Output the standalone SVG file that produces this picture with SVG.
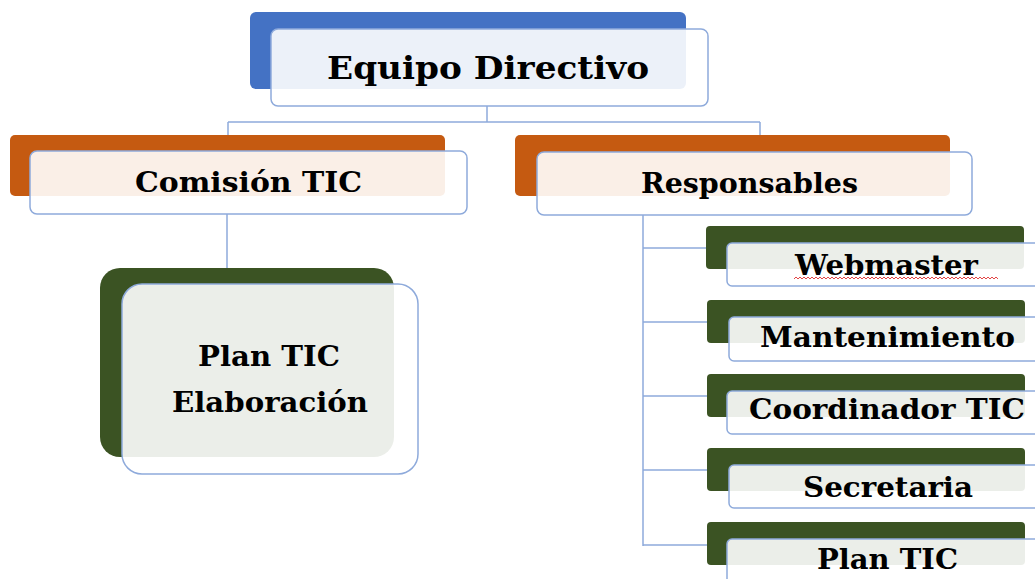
<svg xmlns="http://www.w3.org/2000/svg" width="1035" height="579" viewBox="0 0 1035 579">
<style>
.bk{stroke:none}
.blue{fill:#4472C4}
.orange{fill:#C55A11}
.green{fill:#3B5323}
.fr{fill:#FFFFFF;fill-opacity:0.9;stroke:#8EAADB;stroke-width:1.5}
.t{font-family:"DejaVu Serif","Liberation Serif",serif;font-weight:bold;fill:#000;text-anchor:start}
.conn{fill:none;stroke:#8EAADB;stroke-width:1.5}
</style>
<rect width="1035" height="579" fill="#FFFFFF"/>
<g id="connectors">
<path class="conn" d="M487,106 V122 M228,122 H760 M228,122 V151 M760,122 V152 M227,214 V284 M643,215 V546 M643,248 H706 M643,322 H707 M643,396 H707 M643,470 H707 M643,545 H707"/>
</g>
<g id="equipo-directivo">
<rect class="bk blue" x="250" y="12" width="436" height="77" rx="6"/>
<rect class="fr" x="271" y="29" width="437" height="77" rx="7"/>
<text class="t" x="327" y="79" font-size="32" textLength="322" lengthAdjust="spacingAndGlyphs">Equipo Directivo</text>
</g>
<g id="comision-tic">
<rect class="bk orange" x="10" y="135" width="435" height="61" rx="5"/>
<rect class="fr" x="30" y="151" width="437" height="63" rx="7"/>
<text class="t" x="135" y="192" font-size="27" textLength="227" lengthAdjust="spacingAndGlyphs">Comisión TIC</text>
</g>
<g id="responsables">
<rect class="bk orange" x="515" y="135" width="435" height="61" rx="5"/>
<rect class="fr" x="537" y="152" width="435" height="63" rx="7"/>
<text class="t" x="641" y="193" font-size="27" textLength="217" lengthAdjust="spacingAndGlyphs">Responsables</text>
</g>
<g id="plan-tic-elaboracion">
<rect class="bk green" x="100" y="268" width="294" height="189" rx="20"/>
<rect class="fr" x="122" y="284" width="296" height="190" rx="20"/>
<text class="t" x="198" y="366" font-size="27" textLength="142" lengthAdjust="spacingAndGlyphs">Plan TIC</text>
<text class="t" x="172" y="412" font-size="27" textLength="196" lengthAdjust="spacingAndGlyphs">Elaboración</text>
</g>
<g id="webmaster">
<rect class="bk green" x="706" y="226" width="318" height="43" rx="4"/>
<rect class="fr" x="727" y="243" width="320" height="43" rx="5"/>
<text class="t" x="795" y="275" font-size="27" textLength="183" lengthAdjust="spacingAndGlyphs">Webmaster</text>
<path d="M794,279 l2,-2 l2,2 l2,-2 l2,2 l2,-2 l2,2 l2,-2 l2,2 l2,-2 l2,2 l2,-2 l2,2 l2,-2 l2,2 l2,-2 l2,2 l2,-2 l2,2 l2,-2 l2,2 l2,-2 l2,2 l2,-2 l2,2 l2,-2 l2,2 l2,-2 l2,2 l2,-2 l2,2 l2,-2 l2,2 l2,-2 l2,2 l2,-2 l2,2 l2,-2 l2,2 l2,-2 l2,2 l2,-2 l2,2 l2,-2 l2,2 l2,-2 l2,2 l2,-2 l2,2 l2,-2 l2,2 l2,-2 l2,2 l2,-2 l2,2 l2,-2 l2,2 l2,-2 l2,2 l2,-2 l2,2 l2,-2 l2,2 l2,-2 l2,2 l2,-2 l2,2 l2,-2 l2,2 l2,-2 l2,2 l2,-2 l2,2 l2,-2 l2,2 l2,-2 l2,2 l2,-2 l2,2 l2,-2 l2,2 l2,-2 l2,2 l2,-2 l2,2 l2,-2 l2,2 l2,-2 l2,2 l2,-2 l2,2 l2,-2 l2,2 l2,-2 l2,2 l2,-2 l2,2 l2,-2 l2,2 l2,-2 l2,2 l2,-2 l2,2" fill="none" stroke="#E03030" stroke-width="0.9"/>
</g>
<g id="mantenimiento">
<rect class="bk green" x="707" y="300" width="318" height="43" rx="4"/>
<rect class="fr" x="729" y="317" width="320" height="44" rx="5"/>
<text class="t" x="760" y="347" font-size="27" textLength="255" lengthAdjust="spacingAndGlyphs">Mantenimiento</text>
</g>
<g id="coordinador-tic">
<rect class="bk green" x="707" y="374" width="318" height="43" rx="4"/>
<rect class="fr" x="727" y="391" width="320" height="43" rx="5"/>
<text class="t" x="749" y="419" font-size="27" textLength="276" lengthAdjust="spacingAndGlyphs">Coordinador TIC</text>
</g>
<g id="secretaria">
<rect class="bk green" x="707" y="448" width="318" height="43" rx="4"/>
<rect class="fr" x="729" y="465" width="320" height="43" rx="5"/>
<text class="t" x="803" y="497" font-size="27" textLength="170" lengthAdjust="spacingAndGlyphs">Secretaria</text>
</g>
<g id="plan-tic">
<rect class="bk green" x="707" y="522" width="318" height="43" rx="4"/>
<rect class="fr" x="727" y="539" width="320" height="50" rx="5"/>
<text class="t" x="817" y="569" font-size="27" textLength="141" lengthAdjust="spacingAndGlyphs">Plan TIC</text>
</g>
</svg>
